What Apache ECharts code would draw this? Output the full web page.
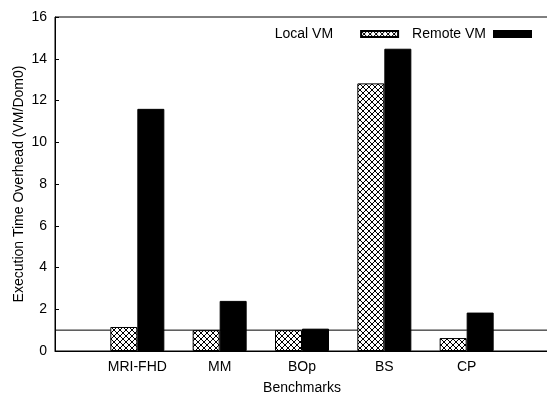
<!DOCTYPE html>
<html>
<head>
<meta charset="utf-8">
<script src="https://cdn.jsdelivr.net/npm/echarts@6/dist/echarts.min.js"></script>
<style>html,body{margin:0;padding:0;background:#fff;}#c{width:547px;height:396px;}</style>
</head>
<body>
<div id="c"></div>
<script>
var categories = ['MRI-FHD', 'MM', 'BOp', 'BS', 'CP'];
var localVM = [1.15, 1.0, 1.0, 12.82, 0.62];
var remoteVM = [11.6, 2.4, 1.07, 14.48, 1.84];
var baseline = 1;
var yTicks = {min: 0, max: 16, interval: 2};

// x range spans one empty slot either side of the benchmarks
var axisCats = [''].concat(categories, ['']);
var localData = [null].concat(localVM, [null]);
var remoteData = [null].concat(remoteVM, [null]);
var baseData = axisCats.map(function () { return baseline; });

var pc = document.createElement('canvas');
pc.width = 6; pc.height = 6;
var g = pc.getContext('2d');
g.fillStyle = '#fff'; g.fillRect(0, 0, 6, 6);
g.strokeStyle = '#000'; g.lineWidth = 1;
g.beginPath();
g.moveTo(0, 0); g.lineTo(6, 6);
g.moveTo(6, 0); g.lineTo(0, 6);
g.stroke();

var font = 'Liberation Sans';
var chart = echarts.init(document.getElementById('c'), null, {renderer: 'canvas'});
chart.setOption({
  animation: false,
  backgroundColor: '#fff',
  textStyle: {fontFamily: font, color: '#000'},
  grid: {left: 55, right: -2, top: 17, bottom: 45, containLabel: false, outerBoundsMode: 'none',
    show: true, borderColor: '#000', borderWidth: 1, backgroundColor: 'transparent'},
  legend: {
    right: 10, top: 22, align: 'right', itemWidth: 37, itemHeight: 6, itemGap: 13,
    icon: 'rect',
    textStyle: {fontFamily: font, fontSize: 14, color: '#000'},
    data: [
      {name: 'Local VM', textStyle: {padding: [0, 23, 0, 0]}},
      {name: 'Remote VM', textStyle: {padding: [0, 3, 0, 0]}}
    ]
  },
  xAxis: {
    type: 'category', data: axisCats, boundaryGap: false,
    axisLine: {lineStyle: {color: '#000', width: 1}},
    axisTick: {show: false},
    axisLabel: {fontFamily: font, fontSize: 14, color: '#000', margin: 9, interval: 0},
    name: 'Benchmarks', nameLocation: 'middle', nameGap: 30, nameMoveOverlap: false,
    nameTextStyle: {fontFamily: font, fontSize: 14, color: '#000'}
  },
  yAxis: {
    type: 'value', min: yTicks.min, max: yTicks.max, interval: yTicks.interval,
    axisLine: {show: true, lineStyle: {color: '#000', width: 1}},
    axisTick: {show: true, inside: true, length: 4, lineStyle: {color: '#000'}},
    splitLine: {show: false},
    axisLabel: {fontFamily: font, fontSize: 14, color: '#000', margin: 8},
    name: 'Execution Time Overhead (VM/Dom0)', nameLocation: 'middle', nameGap: 29, nameMoveOverlap: false,
    nameTextStyle: {fontFamily: font, fontSize: 14, color: '#000'}
  },
  series: [
    {
      name: 'baseline', type: 'line', data: baseData, z: 1, symbol: 'none', silent: true,
      lineStyle: {color: '#000', width: 1}
    },
    {
      name: 'Local VM', type: 'bar', data: localData, barWidth: 27, barGap: '0%', z: 3,
      itemStyle: {color: {image: pc, repeat: 'repeat'}, borderColor: '#000', borderWidth: 1}
    },
    {
      name: 'Remote VM', type: 'bar', data: remoteData, barWidth: 27, barGap: '0%', z: 3,
      itemStyle: {color: '#000', borderColor: '#000', borderWidth: 1}
    }
  ]
});
</script>
</body>
</html>
